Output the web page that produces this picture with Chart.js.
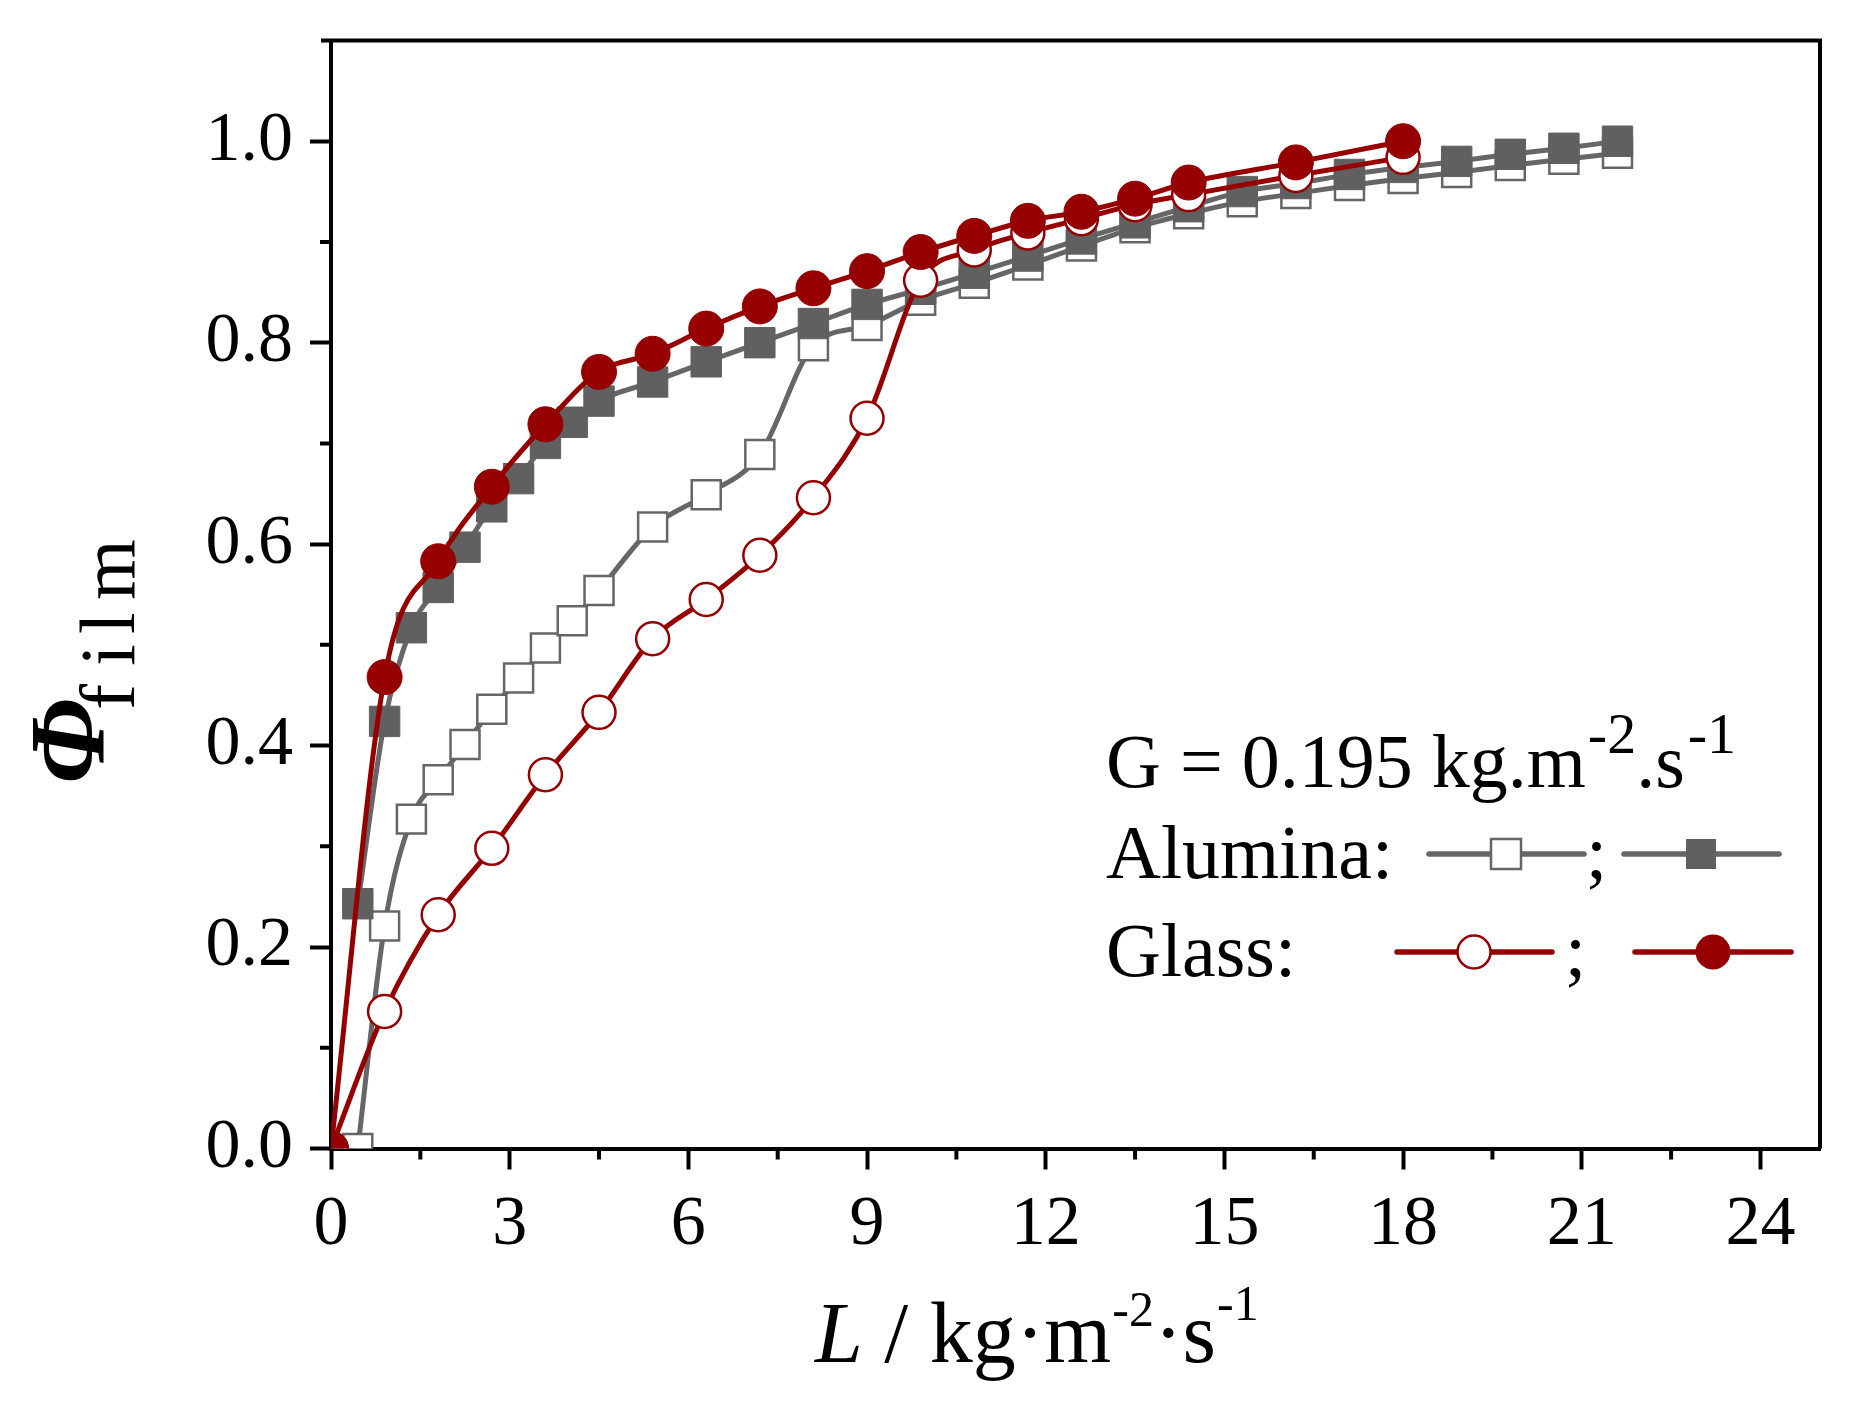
<!DOCTYPE html>
<html>
<head>
<meta charset="utf-8">
<script src="https://cdn.jsdelivr.net/npm/chart.js@4.4.0/dist/chart.umd.min.js"></script>
<style>
html,body{margin:0;padding:0;background:#fff;}
#wrap{width:1863px;height:1406px;}
</style>
</head>
<body>
<div id="wrap"><canvas id="c" width="1863" height="1406"></canvas></div>
<script>
// ---- data ----
const alumOpenX   = [0.45, 0.9, 1.35, 1.8, 2.25, 2.7, 3.15, 3.6, 4.05, 4.5, 5.4, 6.3, 7.2, 8.1, 9.0, 9.9, 10.8, 11.7, 12.6, 13.5, 14.4, 15.3, 16.2, 17.1, 18.0, 18.9, 19.8, 20.7, 21.6];
const alumOpenY   = [0.000, 0.221, 0.327, 0.366, 0.401, 0.436, 0.467, 0.497, 0.524, 0.554, 0.617, 0.649, 0.689, 0.797, 0.817, 0.842, 0.859, 0.877, 0.896, 0.914, 0.928, 0.940, 0.948, 0.956, 0.963, 0.969, 0.976, 0.982, 0.988];
const alumFilledX = [0.45, 0.9, 1.35, 1.8, 2.25, 2.7, 3.15, 3.6, 4.05, 4.5, 5.4, 6.3, 7.2, 8.1, 9.0, 9.9, 10.8, 11.7, 12.6, 13.5, 14.4, 15.3, 16.2, 17.1, 18.0, 18.9, 19.8, 20.7, 21.6];
const alumFilledY = [0.243, 0.424, 0.517, 0.557, 0.597, 0.637, 0.665, 0.700, 0.721, 0.742, 0.761, 0.781, 0.800, 0.819, 0.838, 0.853, 0.869, 0.886, 0.903, 0.919, 0.935, 0.950, 0.958, 0.967, 0.974, 0.980, 0.987, 0.993, 1.000];
const glassOpenX  = [0, 0.9, 1.8, 2.7, 3.6, 4.5, 5.4, 6.3, 7.2, 8.1, 9.0, 9.9, 10.8, 11.7, 12.6, 13.5, 14.4, 16.2, 18.0];
const glassOpenY  = [0, 0.136, 0.232, 0.298, 0.371, 0.433, 0.506, 0.545, 0.589, 0.646, 0.725, 0.862, 0.892, 0.909, 0.923, 0.937, 0.947, 0.966, 0.984];
const glassFilledX= [0, 0.9, 1.8, 2.7, 3.6, 4.5, 5.4, 6.3, 7.2, 8.1, 9.0, 9.9, 10.8, 11.7, 12.6, 13.5, 14.4, 16.2, 18.0];
const glassFilledY= [0, 0.468, 0.583, 0.657, 0.719, 0.771, 0.789, 0.814, 0.836, 0.854, 0.871, 0.890, 0.906, 0.921, 0.930, 0.943, 0.959, 0.979, 1.000];
const xMajorTicks = [0, 3, 6, 9, 12, 15, 18, 21, 24];
const xMinorTicks = [1.5, 4.5, 7.5, 10.5, 13.5, 16.5, 19.5, 22.5];
const yMajorTicks = [0, 0.2, 0.4, 0.6, 0.8, 1.0];
const yMinorTicks = [0.1, 0.3, 0.5, 0.7, 0.9];

const RED = '#960000';
const GRAY = '#666666';
const GRAYFILL = '#606060';
const SERIF = '"Liberation Serif", "Times New Roman", serif';

function pts(xs, ys){ return xs.map((x,i)=>({x:x, y:ys[i]})); }

const framePlugin = {
  id: 'frame',
  afterDraw(chart){
    const ctx = chart.ctx, a = chart.chartArea;
    const xs = chart.scales.x, ys = chart.scales.y;
    ctx.save();
    ctx.strokeStyle = '#000';
    ctx.lineWidth = 4;
    // top and right frame
    ctx.beginPath();
    ctx.moveTo(a.left - 10, a.top); ctx.lineTo(a.right + 2, a.top);
    ctx.moveTo(a.right, a.top); ctx.lineTo(a.right, a.bottom);
    ctx.stroke();
    // minor ticks
    ctx.beginPath();
    xMinorTicks.forEach(v=>{ const p = xs.getPixelForValue(v); ctx.moveTo(p, a.bottom); ctx.lineTo(p, a.bottom + 11); });
    yMinorTicks.forEach(v=>{ const p = ys.getPixelForValue(v); ctx.moveTo(a.left, p); ctx.lineTo(a.left - 11, p); });
    ctx.stroke();

    ctx.fillStyle = '#000';
    ctx.textBaseline = 'alphabetic';
    ctx.textAlign = 'left';

    // x axis title: L / kg·m-2·s-1
    let x = 815, base = 1362;
    ctx.font = 'italic 86px ' + SERIF;
    ctx.fillText('L', x, base); x += ctx.measureText('L').width;
    ctx.font = '86px ' + SERIF;
    ctx.fillText(' / kg\u00B7m', x, base); x += ctx.measureText(' / kg\u00B7m').width + 1;
    ctx.font = '50px ' + SERIF;
    ctx.fillText('-2', x, base - 36); x += ctx.measureText('-2').width;
    ctx.font = '86px ' + SERIF;
    ctx.fillText('\u00B7s', x, base); x += ctx.measureText('\u00B7s').width + 1;
    ctx.font = '50px ' + SERIF;
    ctx.fillText('-1', x, base - 42);

    // y axis title: Phi_film (rotated)
    ctx.save();
    ctx.translate(104, 784);
    ctx.rotate(-Math.PI/2);
    ctx.font = 'italic bold 108px ' + SERIF;
    ctx.fillText('\u03A6', 0, 0);
    ctx.font = '78px ' + SERIF;
    const subs = [['f',74],['i',118],['l',150],['m',184]];
    subs.forEach(s=>ctx.fillText(s[0], s[1], 30));
    ctx.restore();

    // legend block
    x = 1106; base = 787;
    ctx.font = '76px ' + SERIF;
    const t1 = 'G = 0.195 kg.m';
    ctx.fillText(t1, x, base); x += ctx.measureText(t1).width + 2;
    ctx.font = '58px ' + SERIF;
    ctx.fillText('-2', x, base - 34); x += ctx.measureText('-2').width;
    ctx.font = '76px ' + SERIF;
    ctx.fillText('.s', x, base); x += ctx.measureText('.s').width + 3;
    ctx.font = '58px ' + SERIF;
    ctx.fillText('-1', x, base - 34);

    ctx.font = '76px ' + SERIF;
    ctx.fillText('Alumina:', 1106, 878);
    ctx.fillText(';', 1586, 878);
    ctx.fillText('Glass:', 1106, 976);
    ctx.fillText(';', 1565, 976);

    function sampleLine(x1, x2, y, color){
      ctx.strokeStyle = color; ctx.lineWidth = 5.5; ctx.lineCap = 'round';
      ctx.beginPath(); ctx.moveTo(x1, y); ctx.lineTo(x2, y); ctx.stroke();
    }
    // Alumina open
    sampleLine(1429, 1584, 854, GRAY);
    ctx.lineCap = 'butt';
    ctx.fillStyle = '#fff'; ctx.strokeStyle = GRAY; ctx.lineWidth = 2.5;
    ctx.fillRect(1491, 839, 30, 30); ctx.strokeRect(1491, 839, 30, 30);
    // Alumina filled
    sampleLine(1624, 1779, 854, GRAY);
    ctx.fillStyle = GRAYFILL;
    ctx.fillRect(1686, 839, 30, 30);
    // Glass open
    sampleLine(1397, 1552, 952, RED);
    ctx.beginPath(); ctx.arc(1474, 952, 16.5, 0, Math.PI*2);
    ctx.fillStyle = '#fff'; ctx.fill(); ctx.strokeStyle = RED; ctx.lineWidth = 2.5; ctx.stroke();
    // Glass filled
    sampleLine(1635, 1791, 952, RED);
    ctx.beginPath(); ctx.arc(1713, 952, 17.5, 0, Math.PI*2);
    ctx.fillStyle = RED; ctx.fill();
    ctx.restore();
  }
};

const common = {
  showLine: true,
  cubicInterpolationMode: 'monotone',
  borderWidth: 5,
  pointBorderWidth: 2.5,
  clip: 0
};

new Chart(document.getElementById('c'), {
  type: 'scatter',
  data: {
    datasets: [
      Object.assign({}, common, {
        label: 'Glass (filled)', data: pts(glassFilledX, glassFilledY),
        borderColor: RED, backgroundColor: RED,
        pointStyle: 'circle', pointRadius: 17.5, pointBackgroundColor: RED, pointBorderColor: RED, pointBorderWidth: 1
      }),
      Object.assign({}, common, {
        label: 'Glass (open)', data: pts(glassOpenX, glassOpenY),
        borderColor: RED, backgroundColor: '#fff',
        pointStyle: 'circle', pointRadius: 16.5, pointBackgroundColor: '#fff', pointBorderColor: RED
      }),
      Object.assign({}, common, {
        label: 'Alumina (filled)', data: pts(alumFilledX, alumFilledY),
        borderColor: GRAY, backgroundColor: GRAYFILL,
        pointStyle: 'rect', pointRadius: 21.5, pointBackgroundColor: GRAYFILL, pointBorderColor: GRAYFILL, pointBorderWidth: 1
      }),
      Object.assign({}, common, {
        label: 'Alumina (open)', data: pts(alumOpenX, alumOpenY),
        borderColor: GRAY, backgroundColor: '#fff',
        pointStyle: 'rect', pointRadius: 20.5, pointBackgroundColor: '#fff', pointBorderColor: GRAY
      })
    ]
  },
  options: {
    responsive: false,
    devicePixelRatio: 1,
    animation: false,
    layout: { padding: { left: 0, right: 43, top: 40.5, bottom: 0 } },
    plugins: { legend: { display: false }, tooltip: { enabled: false }, title: { display: false } },
    scales: {
      x: {
        type: 'linear', min: 0, max: 25,
        afterBuildTicks: s => { s.ticks = xMajorTicks.map(v=>({value:v})); },
        afterFit: s => { s.height = 1406 - 1148.5; s.paddingLeft = 0; s.paddingRight = 0; },
        grid: { drawOnChartArea: false, drawTicks: true, tickLength: 21, tickWidth: 4, tickColor: '#000' },
        border: { display: true, color: '#000', width: 4 },
        ticks: { font: { family: SERIF, size: 70 }, color: '#000', padding: 14, maxRotation: 0, autoSkip: false,
                 callback: v => String(v) }
      },
      y: {
        type: 'linear', min: 0, max: 1.1,
        afterBuildTicks: s => { s.ticks = yMajorTicks.map(v=>({value:v})); },
        afterFit: s => { s.width = 331; s.paddingTop = 0; s.paddingBottom = 0; },
        grid: { drawOnChartArea: false, drawTicks: true, tickLength: 21, tickWidth: 4, tickColor: '#000' },
        border: { display: true, color: '#000', width: 4 },
        ticks: { font: { family: SERIF, size: 70 }, color: '#000', padding: 17, autoSkip: false,
                 callback: v => Number(v).toFixed(1) }
      }
    }
  },
  plugins: [framePlugin]
});
</script>
</body>
</html>
